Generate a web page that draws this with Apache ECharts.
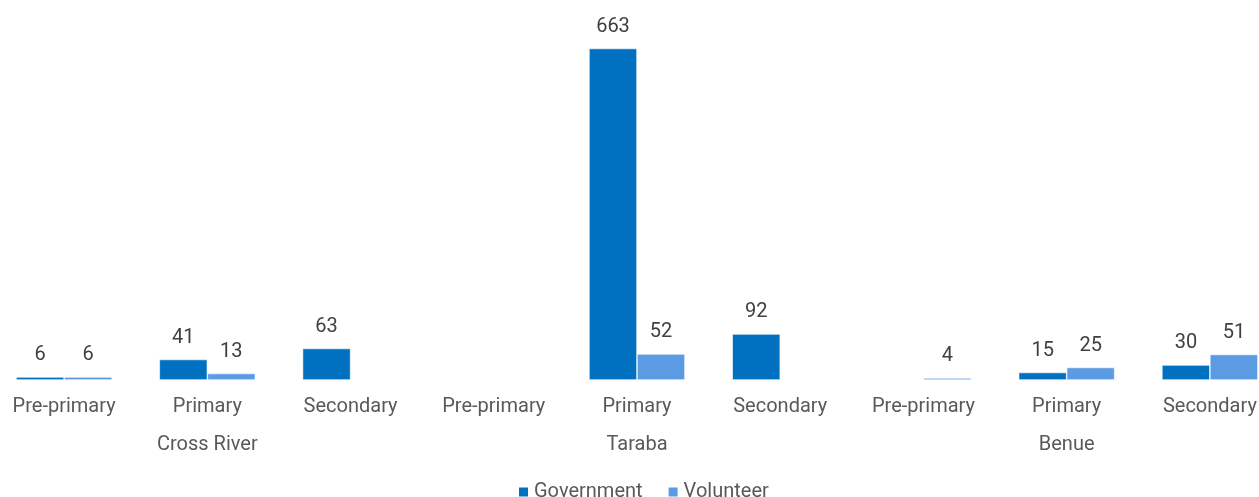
<!DOCTYPE html>
<html>
<head>
<meta charset="utf-8">
<script src="https://cdn.jsdelivr.net/npm/echarts@6/dist/echarts.min.js"></script>
<style>
  html, body { margin: 0; padding: 0; background: #fff; }
  #chart { width: 1259px; height: 497px; }
</style>
</head>
<body>
<div id="chart"></div>
<script>
// School levels within each state, and the states that group them
const levels = ['Pre-primary', 'Primary', 'Secondary', 'Pre-primary', 'Primary', 'Secondary', 'Pre-primary', 'Primary', 'Secondary'];
const states = ['Cross River', 'Taraba', 'Benue'];

// Teacher counts by type (null = none reported)
const government = [6, 41, 63, null, 663, 92, null, 15, 30];
const volunteer = [6, 13, null, null, 52, null, 4, 25, 51];

const FONT = 'Roboto, "Noto Sans", sans-serif';

const chart = echarts.init(document.getElementById('chart'));

function barSeries(name, data, color) {
  return {
    name: name,
    type: 'bar',
    data: data,
    barWidth: 48,
    barGap: '0%',
    itemStyle: { color: color, borderColor: '#ffffff', borderWidth: 0.6 },
    label: {
      show: true,
      position: 'top',
      distance: 12,
      color: '#404040',
      fontFamily: FONT,
      fontSize: 20
    }
  };
}

chart.setOption({
  animation: false,
  backgroundColor: '#ffffff',
  grid: {
    left: -7.5,
    right: -22.5,
    top: 30,
    bottom: 117,
    containLabel: false,
    outerBoundsMode: 'none'
  },
  legend: {
    left: 517,
    top: 482,
    padding: 0,
    icon: 'rect',
    itemWidth: 11,
    itemHeight: 11,
    itemGap: 24,
    textStyle: { color: '#595959', fontFamily: FONT, fontSize: 20, lineHeight: 20 },
    data: ['Government', 'Volunteer']
  },
  xAxis: [
    {
      type: 'category',
      data: levels,
      axisLine: { show: false },
      axisTick: { show: false },
      axisLabel: { color: '#595959', fontFamily: FONT, fontSize: 20, margin: 17, interval: 0 }
    },
    {
      type: 'category',
      data: states,
      position: 'bottom',
      offset: 38,
      axisLine: { show: false },
      axisTick: { show: false },
      axisLabel: { color: '#595959', fontFamily: FONT, fontSize: 20, margin: 17, interval: 0 }
    }
  ],
  yAxis: {
    type: 'value',
    min: 0,
    max: 700,
    show: false,
    splitLine: { show: false }
  },
  series: [
    barSeries('Government', government, '#0070C0'),
    barSeries('Volunteer', volunteer, '#5B9BE3')
  ]
});
</script>
</body>
</html>
